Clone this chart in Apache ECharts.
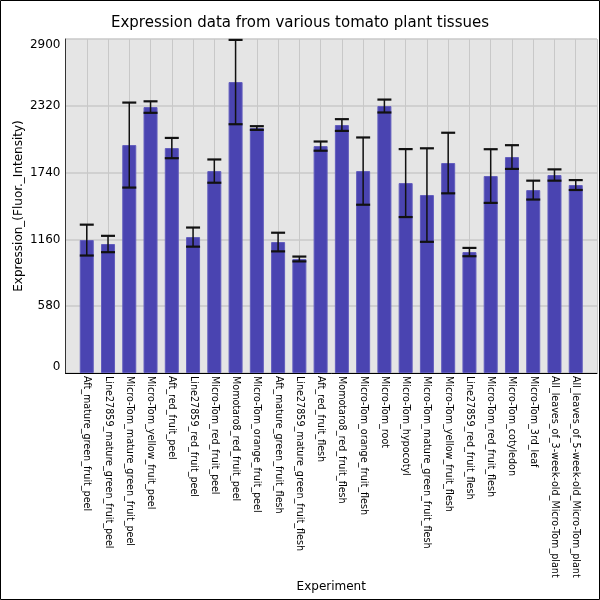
<!DOCTYPE html>
<html>
<head>
<meta charset="utf-8">
<script src="https://cdn.jsdelivr.net/npm/echarts@6/dist/echarts.min.js"></script>
<style>
  html, body { margin: 0; padding: 0; background: #fff; }
  #chart { width: 600px; height: 600px; }
</style>
</head>
<body>
<div id="chart"></div>
<script>
// tissues on the x axis
const experiments = [
  'Aft_mature_green_fruit_peel',
  'Line27859_mature_green_fruit_peel',
  'Micro-Tom_mature_green_fruit_peel',
  'Micro-Tom_yellow_fruit_peel',
  'Aft_red_fruit_peel',
  'Line27859_red_fruit_peel',
  'Micro-Tom_red_fruit_peel',
  'Momotaro8_red_fruit_peel',
  'Micro-Tom_orange_fruit_peel',
  'Aft_mature_green_fruit_flesh',
  'Line27859_mature_green_fruit_flesh',
  'Aft_red_fruit_flesh',
  'Momotaro8_red_fruit_flesh',
  'Micro-Tom_orange_fruit_flesh',
  'Micro-Tom_root',
  'Micro-Tom_hypocotyl',
  'Micro-Tom_mature_green_fruit_flesh',
  'Micro-Tom_yellow_fruit_flesh',
  'Line27859_red_fruit_flesh',
  'Micro-Tom_red_fruit_flesh',
  'Micro-Tom_cotyledon',
  'Micro-Tom_3rd_leaf',
  'All_leaves_of_3-week-old_Micro-Tom_plant',
  'All_leaves_of_5-week-old_Micro-Tom_plant'
]
const expression = [1154, 1120, 1979, 2309, 1953, 1180, 1753, 2526, 2127, 1137, 990, 1970,
  2153, 1753, 2318, 1649, 1545, 1823, 1050, 1710, 1875, 1588, 1719, 1632]
// half height of the error bars
const errors = [134, 71, 369, 50, 88, 83, 101, 366, 16, 81, 21, 40,
  51, 292, 56, 295, 406, 263, 36, 233, 103, 82, 49, 43]
const yTicks = [0, 580, 1160, 1740, 2320, 2900]

// one empty slot at each end so the bars sit away from the frame
const axisCats = [''].concat(experiments, [''])
const barData = [null].concat(expression, [null])
const errData = expression.map((v, i) => [i + 1, v, errors[i]])

const font = 'DejaVu Sans'
const chart = echarts.init(document.getElementById('chart'))

chart.setOption({
  animation: false,
  backgroundColor: '#fff',
  textStyle: { fontFamily: font },
  title: {
    text: 'Expression data from various tomato plant tissues',
    left: 'center',
    top: 11,
    textStyle: { fontFamily: font, fontSize: 15, fontWeight: 'normal', color: '#000' }
  },
  graphic: [{
    type: 'rect',
    shape: { x: 0.5, y: 0.5, width: 599, height: 599 },
    style: { fill: 'none', stroke: '#000', lineWidth: 1 },
    z: 100
  }],
  grid: {
    left: 65.5, right: 3, top: 39, bottom: 227,
    outerBoundsMode: 'none', containLabel: false,
    show: true, backgroundColor: '#e5e5e5', borderWidth: 0
  },
  xAxis: {
    type: 'category',
    data: axisCats,
    boundaryGap: false,
    name: 'Experiment',
    nameLocation: 'middle',
    nameGap: 208,
    nameMoveOverlap: false,
    nameTextStyle: { fontFamily: font, fontSize: 12, color: '#000' },
    axisLine: { lineStyle: { color: '#000', width: 1 } },
    axisTick: { show: false },
    axisLabel: { interval: 0, rotate: -90, margin: 3, fontSize: 9.6, color: '#000', fontFamily: font },
    splitLine: { show: true, lineStyle: { color: '#c8c8c8', width: 1 } }
  },
  yAxis: {
    type: 'value',
    min: yTicks[0],
    max: yTicks[yTicks.length - 1],
    interval: yTicks[1] - yTicks[0],
    name: 'Expression_(Fluor._Intensity)',
    nameLocation: 'middle',
    nameGap: 41,
    nameMoveOverlap: false,
    nameTextStyle: { fontFamily: font, fontSize: 12, color: '#000' },
    axisLine: { show: true, lineStyle: { color: '#333', width: 1 } },
    axisTick: { show: false },
    axisLabel: {
      margin: 5, fontSize: 12, color: '#000', fontFamily: font,
      formatter: (v) => String(v),
      verticalAlignMinLabel: 'bottom', verticalAlignMaxLabel: 'top'
    },
    splitLine: { lineStyle: { color: '#c8c8c8', width: 1.5 } }
  },
  series: [{
    type: 'bar',
    data: barData,
    barWidth: 14,
    itemStyle: { color: '#4a44b1', borderColor: '#625dbd', borderWidth: 1 }
  }, {
    type: 'custom',
    data: errData,
    z: 10,
    renderItem: function (params, api) {
      const x = api.value(0)
      const v = api.value(1)
      const e = api.value(2)
      const hi = api.coord([x, v + e])
      const lo = api.coord([x, v - e])
      const hw = 7
      const s = { stroke: '#111', lineWidth: 1.5 }
      const c = { stroke: '#111', lineWidth: 2.2 }
      return {
        type: 'group',
        children: [
          { type: 'line', shape: { x1: hi[0], y1: hi[1], x2: lo[0], y2: lo[1] }, style: s },
          { type: 'line', shape: { x1: hi[0] - hw, y1: hi[1], x2: hi[0] + hw, y2: hi[1] }, style: c },
          { type: 'line', shape: { x1: lo[0] - hw, y1: lo[1], x2: lo[0] + hw, y2: lo[1] }, style: c }
        ]
      }
    }
  }]
})
</script>
</body>
</html>
